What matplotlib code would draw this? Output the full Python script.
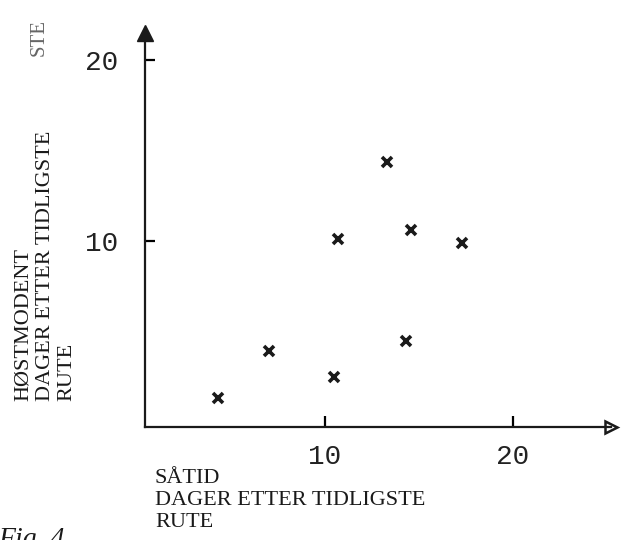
import matplotlib
matplotlib.use("Agg")
import matplotlib.pyplot as plt

# sowing time (days after earliest plot) vs. harvest ripeness (days after earliest plot)
satid = [13.3, 10.7, 14.6, 17.3, 14.3, 7.0, 10.5, 4.3]
hostmodent = [14.35, 10.1, 10.6, 9.9, 4.5, 3.9, 2.5, 1.3]
x_ticks = [10, 20]
y_ticks = [10, 20]

W, H = 621, 540
fig = plt.figure(figsize=(W / 100, H / 100), dpi=100)

# axes placed in pixel terms so the hand-drawn layout lines up
left, right, top, bottom = 145, 611, 33, 427
px_per_x, x0_px = 18.8, 137
px_per_y, y0_px = 18.1, 422
ax = fig.add_axes([left / W, 1 - bottom / H, (right - left) / W, (bottom - top) / H])
ax.set_xlim((left - x0_px) / px_per_x, (right - x0_px) / px_per_x)
ax.set_ylim((y0_px - bottom) / px_per_y, (y0_px - top) / px_per_y)

ax.plot(satid, hostmodent, ls="none", marker="x", color="#1a1a1a",
        markersize=7, markeredgewidth=2.6)

for side in ["top", "right"]:
    ax.spines[side].set_visible(False)
for side in ["left", "bottom"]:
    ax.spines[side].set_linewidth(1.6)
    ax.spines[side].set_color("#1a1a1a")

# arrow heads at the axis ends
ax.plot(0, 1, "^", color="#1a1a1a", markersize=11,
        transform=ax.transAxes, clip_on=False)
ax.plot(1, 0, ">", color="#1a1a1a", markerfacecolor="white", markersize=9,
        markeredgewidth=1.8, transform=ax.transAxes, clip_on=False)

mono = "Liberation Mono"
ax.set_xticks(x_ticks)
ax.set_yticks(y_ticks)
ax.set_xticklabels([str(t) for t in x_ticks], family=mono, fontsize=20, color="#222222")
ax.set_yticklabels([str(t) for t in y_ticks], family=mono, fontsize=20, color="#222222")
ax.tick_params(axis="x", direction="in", length=8, width=1.6, pad=12)
ax.tick_params(axis="y", direction="in", length=7, width=1.6, pad=19)

serif = "Liberation Serif"
fig.text(155 / W, 1 - 469 / H, "SÅTID\nDAGER ETTER TIDLIGSTE\nRUTE",
         family=serif, fontsize=16, ha="left", va="top", linespacing=1.2,
         color="#1a1a1a")
fig.text(14 / W, 1 - 401 / H, "HØSTMODENT\nDAGER ETTER TIDLIGSTE\nRUTE",
         family=serif, fontsize=16, rotation=90, ha="left", va="bottom",
         multialignment="left", linespacing=1.2, color="#1a1a1a")

# scan fragments at the page edges
fig.text(30 / W, 1 - 56 / H, "STE", family=serif, fontsize=15, rotation=90,
         ha="left", va="bottom", color="#666666")
fig.text(-2 / W, 1 - 527 / H, "Fig. 4", family=serif, style="italic",
         fontsize=20, ha="left", va="top", color="#1a1a1a")

fig.savefig("out.png", dpi=100, facecolor="white")
